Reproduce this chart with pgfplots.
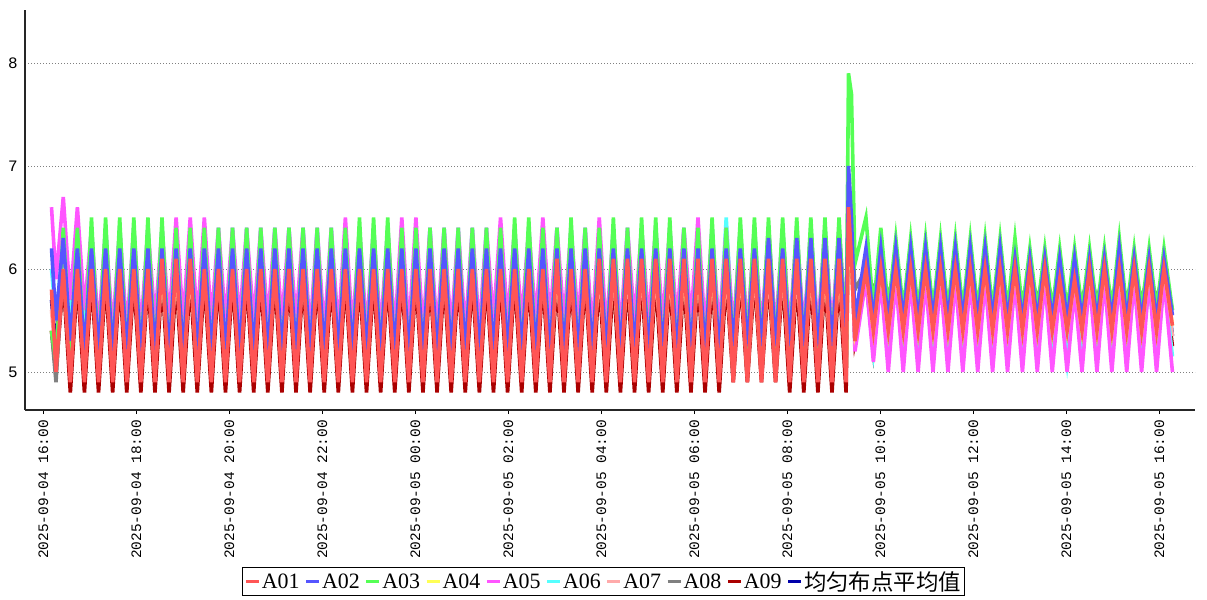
\documentclass[border=0pt]{standalone}
\usepackage{fontspec}
\setmainfont{Liberation Serif}
\setmonofont{Liberation Mono}
\newfontfamily\cjk{Noto Sans CJK SC}
\usepackage{pgfplots}
\usepackage{pgfplotstable}
\pgfplotsset{compat=1.18}

\definecolor{c01}{HTML}{FF5555}
\definecolor{c02}{HTML}{5555FF}
\definecolor{c03}{HTML}{55FF55}
\definecolor{c04}{HTML}{FFFF55}
\definecolor{c05}{HTML}{FF55FF}
\definecolor{c06}{HTML}{55FFFF}
\definecolor{c07}{HTML}{FFAAAA}
\definecolor{c08}{HTML}{808080}
\definecolor{c09}{HTML}{AA0000}
\definecolor{cavg}{HTML}{0000AA}

% t = minutes after 2025-09-04 16:00
\pgfplotstableread{
t a01 a02 a03 a04 a05 a06 a07 a08 a09 avg
10.6 5.8 6.2 5.4 5.4 6.6 6.0 5.6 5.4 5.4 5.7
16.4 5.0 5.5 5.1 5.2 5.9 5.5 5.1 4.9 5.0 5.23
25.8 6.0 6.3 6.4 6.1 6.7 6.3 6.0 6.1 5.9 6.2
34.9 4.9 5.3 5.2 5.0 5.7 5.5 5.0 5.0 4.8 5.15
44.0 6.0 6.2 6.4 6.1 6.6 6.3 6.0 6.1 5.9 6.2
53.1 4.9 5.2 5.1 5.0 5.6 5.4 5.0 5.0 4.8 5.1
62.2 6.0 6.2 6.5 6.1 6.4 6.4 6.0 6.1 5.9 6.2
71.3 4.9 5.2 5.1 5.0 5.4 5.3 5.0 5.0 4.8 5.1
80.4 6.0 6.2 6.5 6.1 6.4 6.4 6.0 6.1 5.9 6.2
89.5 4.9 5.2 5.1 5.0 5.4 5.3 5.0 5.0 4.8 5.1
98.6 6.0 6.2 6.5 6.1 6.4 6.4 6.0 6.1 5.9 6.2
107.7 4.9 5.2 5.1 5.0 5.4 5.3 5.0 5.0 4.8 5.1
116.8 6.0 6.2 6.5 6.1 6.4 6.4 6.0 6.1 5.9 6.2
125.9 4.9 5.2 5.1 5.0 5.4 5.3 5.0 5.0 4.8 5.1
135.0 6.0 6.2 6.5 6.1 6.4 6.4 6.0 6.1 5.9 6.2
144.1 4.9 5.2 5.1 5.0 5.5 5.3 5.0 5.0 4.8 5.1
153.2 6.1 6.2 6.5 6.1 6.4 6.4 6.0 6.1 5.9 6.2
162.3 4.9 5.2 5.1 5.0 5.5 5.3 5.0 5.0 4.8 5.1
171.4 6.1 6.2 6.4 6.1 6.5 6.4 6.0 6.1 5.9 6.2
180.5 4.9 5.2 5.1 5.0 5.5 5.3 5.0 5.0 4.8 5.1
189.6 6.1 6.2 6.4 6.1 6.5 6.4 6.0 6.1 5.9 6.2
198.7 4.9 5.2 5.1 5.0 5.5 5.3 5.0 5.0 4.8 5.1
207.8 6.0 6.2 6.4 6.1 6.5 6.4 6.0 6.1 5.9 6.2
216.9 4.9 5.2 5.1 5.0 5.5 5.3 5.0 5.0 4.8 5.1
226.0 6.0 6.2 6.4 6.1 6.4 6.4 6.0 6.1 5.9 6.2
235.1 4.9 5.2 5.1 5.0 5.5 5.3 5.0 5.0 4.8 5.1
244.2 6.0 6.2 6.4 6.1 6.4 6.4 6.0 6.1 5.9 6.2
253.3 4.9 5.2 5.1 5.0 5.5 5.3 5.0 5.0 4.8 5.1
262.4 6.0 6.2 6.4 6.1 6.4 6.4 6.0 6.1 5.9 6.2
271.5 4.9 5.2 5.1 5.0 5.5 5.3 5.0 5.0 4.8 5.1
280.6 6.0 6.2 6.4 6.1 6.4 6.4 6.0 6.1 5.9 6.2
289.7 4.9 5.2 5.1 5.0 5.5 5.3 5.0 5.0 4.8 5.1
298.8 6.0 6.2 6.4 6.1 6.4 6.4 6.0 6.1 5.9 6.2
307.9 4.9 5.2 5.1 5.0 5.5 5.3 5.0 5.0 4.8 5.1
317.0 6.0 6.2 6.4 6.1 6.4 6.4 6.0 6.1 5.9 6.2
326.1 4.9 5.2 5.1 5.0 5.5 5.3 5.0 5.0 4.8 5.1
335.2 6.0 6.2 6.4 6.1 6.4 6.4 6.0 6.1 5.9 6.2
344.3 4.9 5.2 5.1 5.0 5.4 5.3 5.0 5.0 4.8 5.1
353.4 6.0 6.2 6.4 6.1 6.4 6.4 6.0 6.1 5.9 6.2
362.5 4.9 5.2 5.1 5.0 5.4 5.3 5.0 5.0 4.8 5.1
371.6 6.0 6.2 6.4 6.1 6.4 6.4 6.0 6.1 5.9 6.2
380.7 4.9 5.2 5.1 5.0 5.4 5.3 5.0 5.0 4.8 5.1
389.8 6.0 6.2 6.4 6.1 6.5 6.4 6.0 6.1 5.9 6.2
398.9 4.9 5.2 5.1 5.0 5.4 5.3 5.0 5.0 4.8 5.1
408.0 6.0 6.2 6.5 6.1 6.4 6.4 6.0 6.1 5.9 6.2
417.1 4.9 5.2 5.1 5.0 5.4 5.3 5.0 5.0 4.8 5.1
426.2 6.0 6.2 6.5 6.1 6.4 6.4 6.0 6.1 5.9 6.2
435.3 4.9 5.2 5.1 5.0 5.4 5.3 5.0 5.0 4.8 5.1
444.4 6.0 6.2 6.5 6.1 6.4 6.4 6.0 6.1 5.9 6.2
453.5 4.9 5.2 5.1 5.0 5.4 5.3 5.0 5.0 4.8 5.1
462.6 6.0 6.2 6.4 6.1 6.5 6.4 6.0 6.1 5.9 6.2
471.7 4.9 5.2 5.1 5.0 5.4 5.3 5.0 5.0 4.8 5.1
480.8 6.0 6.2 6.4 6.1 6.5 6.4 6.0 6.1 5.9 6.2
489.9 4.9 5.2 5.1 5.0 5.4 5.3 5.0 5.0 4.8 5.1
499.0 6.0 6.2 6.4 6.1 6.4 6.4 6.0 6.1 5.9 6.2
508.1 4.9 5.2 5.1 5.0 5.4 5.3 5.0 5.0 4.8 5.1
517.2 6.0 6.2 6.4 6.1 6.4 6.4 6.0 6.1 5.9 6.2
526.3 4.9 5.2 5.1 5.0 5.4 5.3 5.0 5.0 4.8 5.1
535.4 6.0 6.2 6.4 6.1 6.4 6.4 6.0 6.1 5.9 6.2
544.5 4.9 5.2 5.1 5.0 5.4 5.3 5.0 5.0 4.8 5.1
553.6 6.0 6.2 6.4 6.1 6.4 6.4 6.0 6.1 5.9 6.2
562.7 4.9 5.2 5.1 5.0 5.4 5.3 5.0 5.0 4.8 5.1
571.8 6.0 6.2 6.4 6.1 6.4 6.4 6.0 6.1 5.9 6.2
580.9 4.9 5.2 5.1 5.0 5.5 5.3 5.0 5.0 4.8 5.1
590.0 6.0 6.2 6.4 6.1 6.5 6.4 6.0 6.1 5.9 6.2
599.1 4.9 5.2 5.1 5.0 5.5 5.3 5.0 5.0 4.8 5.1
608.2 6.0 6.2 6.5 6.1 6.4 6.4 6.0 6.1 5.9 6.2
617.3 4.9 5.2 5.1 5.0 5.5 5.3 5.0 5.0 4.8 5.1
626.4 6.0 6.2 6.5 6.1 6.4 6.4 6.0 6.1 5.9 6.2
635.5 4.9 5.2 5.1 5.0 5.5 5.3 5.0 5.0 4.8 5.1
644.6 6.0 6.2 6.4 6.1 6.5 6.4 6.0 6.1 5.9 6.2
653.7 4.9 5.2 5.1 5.0 5.5 5.3 5.0 5.0 4.8 5.1
662.8 6.1 6.2 6.4 6.1 6.4 6.4 6.0 6.1 5.9 6.2
671.9 4.9 5.2 5.1 5.0 5.5 5.3 5.0 5.0 4.8 5.1
681.0 6.0 6.2 6.5 6.1 6.4 6.4 6.0 6.1 5.9 6.2
690.1 4.9 5.2 5.1 5.0 5.5 5.3 5.0 5.0 4.8 5.1
699.2 6.0 6.2 6.4 6.1 6.4 6.4 6.0 6.1 5.9 6.2
708.3 4.9 5.2 5.1 5.0 5.4 5.3 5.0 5.0 4.8 5.1
717.4 6.1 6.2 6.4 6.1 6.5 6.4 6.0 6.1 5.9 6.2
726.5 4.9 5.2 5.1 5.0 5.4 5.3 5.0 5.0 4.8 5.1
735.6 6.1 6.2 6.5 6.1 6.4 6.4 6.0 6.1 5.9 6.2
744.7 4.9 5.2 5.1 5.0 5.4 5.3 5.0 5.0 4.8 5.1
753.8 6.1 6.2 6.4 6.1 6.4 6.4 6.0 6.1 5.9 6.2
762.9 4.9 5.2 5.1 5.0 5.5 5.3 5.0 5.0 4.8 5.1
772.0 6.1 6.2 6.5 6.1 6.4 6.4 6.0 6.1 5.9 6.2
781.1 4.9 5.2 5.1 5.0 5.5 5.3 5.0 5.0 4.8 5.1
790.2 6.1 6.2 6.5 6.1 6.4 6.4 6.0 6.1 5.9 6.2
799.3 4.9 5.2 5.1 5.0 5.5 5.3 5.0 5.0 4.8 5.1
808.4 6.1 6.2 6.5 6.1 6.4 6.4 6.0 6.1 5.9 6.2
817.5 4.9 5.2 5.1 5.0 5.5 5.3 5.0 5.0 4.8 5.1
826.6 6.1 6.2 6.4 6.1 6.4 6.4 6.0 6.1 5.9 6.2
835.7 4.9 5.2 5.1 5.0 5.5 5.3 5.0 5.0 4.8 5.1
844.8 6.1 6.2 6.4 6.1 6.5 6.4 6.0 6.1 5.9 6.2
853.9 4.9 5.2 5.1 5.0 5.4 5.3 5.0 5.0 4.8 5.1
863.0 6.1 6.2 6.5 6.1 6.4 6.4 6.0 6.1 5.9 6.2
872.1 4.9 5.2 5.1 5.0 5.4 5.3 5.0 5.0 4.8 5.1
881.2 6.1 6.2 6.4 6.1 6.4 6.5 6.0 6.1 5.9 6.2
890.3 4.9 5.25 5.2 5.0 5.4 5.3 5.0 5.0 4.9 5.1
899.4 6.1 6.2 6.5 6.1 6.4 6.4 6.0 6.1 5.9 6.2
908.5 4.9 5.25 5.2 5.0 5.4 5.3 5.0 5.0 4.9 5.1
917.6 6.1 6.2 6.5 6.1 6.4 6.4 6.0 6.1 5.9 6.2
926.7 4.9 5.25 5.2 5.0 5.4 5.3 5.0 5.0 4.9 5.1
935.8 6.1 6.3 6.5 6.1 6.4 6.4 6.0 6.1 5.9 6.2
944.9 4.9 5.25 5.2 5.0 5.4 5.3 5.0 5.0 4.9 5.1
954.0 6.1 6.2 6.5 6.1 6.4 6.4 6.0 6.1 5.9 6.2
963.1 4.9 5.25 5.2 5.0 5.4 5.3 5.0 5.0 4.8 5.1
972.2 6.1 6.3 6.5 6.1 6.4 6.4 6.0 6.1 5.9 6.2
981.3 4.9 5.25 5.2 5.0 5.4 5.3 5.0 5.0 4.8 5.1
990.4 6.1 6.3 6.5 6.1 6.4 6.4 6.0 6.1 5.9 6.2
999.5 4.9 5.25 5.2 5.0 5.4 5.3 5.0 5.0 4.8 5.1
1008.6 6.1 6.3 6.5 6.1 6.4 6.4 6.0 6.1 5.9 6.2
1017.7 4.9 5.25 5.2 5.0 5.4 5.3 5.0 5.0 4.8 5.1
1026.8 6.1 6.3 6.5 6.1 6.4 6.4 6.0 6.1 5.9 6.2
1035.9 4.9 5.25 5.2 5.0 5.4 5.3 5.0 5.0 4.8 5.1
1039.0 6.6 7.0 7.9 6.5 6.7 6.8 6.5 6.9 6.5 6.8
1042.8 6.1 6.5 7.7 6.1 6.3 6.3 6.1 6.5 6.1 6.4
1047.3 5.3 5.5 6.05 5.4 5.2 5.25 5.35 5.8 5.3 5.45
1061.5 6.0 6.2 6.5 6.0 5.9 5.9 5.9 6.0 5.9 6.05
1071.1 5.4 5.5 5.6 5.4 5.1 5.2 5.3 5.8 5.2 5.4
1080.7 6.0 6.2 6.4 6.0 5.9 5.9 5.9 6.0 5.9 6.05
1090.3 5.4 5.5 5.6 5.4 5.0 5.1 5.3 5.75 5.2 5.35
1100.0 6.0 6.2 6.3 6.0 5.9 5.9 5.9 6.0 5.9 6.0
1109.6 5.4 5.5 5.6 5.4 5.0 5.1 5.3 5.7 5.2 5.35
1119.2 6.0 6.2 6.3 6.0 5.9 5.9 5.9 6.0 5.9 6.0
1128.8 5.4 5.5 5.6 5.4 5.0 5.1 5.3 5.7 5.2 5.35
1138.4 6.0 6.2 6.3 6.0 5.9 5.9 5.9 6.0 5.9 6.0
1148.0 5.4 5.5 5.6 5.4 5.0 5.1 5.3 5.7 5.2 5.35
1157.7 6.0 6.2 6.3 6.0 5.9 5.9 5.9 6.0 5.9 6.0
1167.3 5.4 5.5 5.6 5.4 5.0 5.1 5.3 5.7 5.2 5.35
1176.9 6.0 6.2 6.3 6.0 5.9 5.9 5.9 6.0 5.9 6.0
1186.5 5.4 5.5 5.6 5.4 5.0 5.1 5.3 5.7 5.2 5.35
1196.1 6.0 6.2 6.3 6.0 5.9 5.9 5.9 6.0 5.9 6.0
1205.7 5.4 5.5 5.6 5.4 5.0 5.1 5.3 5.7 5.2 5.35
1215.3 6.0 6.2 6.3 6.0 5.9 5.9 5.9 6.0 5.9 6.0
1224.9 5.4 5.5 5.6 5.4 5.0 5.1 5.3 5.7 5.2 5.35
1234.6 6.0 6.2 6.3 6.0 5.9 5.9 5.9 6.0 5.9 6.0
1244.2 5.4 5.5 5.6 5.4 5.0 5.1 5.3 5.7 5.2 5.35
1253.8 6.0 6.1 6.3 6.0 5.9 5.9 5.9 6.0 5.9 6.0
1263.4 5.4 5.5 5.6 5.4 5.0 5.1 5.3 5.7 5.2 5.35
1273.0 6.0 6.1 6.2 6.0 5.9 5.9 5.9 6.0 5.9 6.0
1282.6 5.4 5.5 5.6 5.4 5.0 5.1 5.3 5.7 5.2 5.35
1292.3 6.0 6.1 6.2 6.0 5.9 5.9 5.9 6.0 5.9 6.0
1301.9 5.4 5.5 5.6 5.4 5.0 5.1 5.3 5.7 5.2 5.35
1311.5 5.9 6.1 6.2 5.9 5.8 5.8 5.8 5.9 5.8 5.95
1321.1 5.4 5.5 5.6 5.4 5.0 5.1 5.3 5.7 5.2 5.35
1330.7 5.9 6.1 6.2 5.9 5.8 5.8 5.8 5.9 5.8 5.95
1340.3 5.4 5.5 5.6 5.4 5.0 5.1 5.3 5.7 5.2 5.35
1350.0 6.0 6.1 6.2 6.0 5.9 5.9 5.9 6.0 5.9 6.0
1359.6 5.4 5.5 5.6 5.4 5.0 5.1 5.3 5.7 5.2 5.35
1369.2 6.0 6.1 6.2 6.0 5.9 5.9 5.9 6.0 5.9 6.0
1378.8 5.4 5.5 5.6 5.4 5.0 5.1 5.3 5.7 5.2 5.35
1388.4 6.0 6.2 6.3 6.0 5.9 5.9 5.9 6.0 5.9 6.0
1398.0 5.4 5.5 5.6 5.4 5.0 5.1 5.3 5.7 5.2 5.35
1407.6 6.0 6.1 6.2 6.0 5.9 5.9 5.9 6.0 5.9 6.0
1417.2 5.4 5.5 5.6 5.4 5.0 5.1 5.3 5.7 5.2 5.35
1426.9 6.0 6.1 6.2 6.0 5.9 5.9 5.9 6.0 5.9 6.0
1436.5 5.4 5.5 5.6 5.4 5.0 5.1 5.3 5.7 5.2 5.35
1446.1 6.0 6.1 6.2 6.0 5.9 5.9 5.9 6.0 5.9 6.0
1457.0 5.45 5.55 5.6 5.45 5.0 5.15 5.35 5.6 5.25 5.35
}\series

\begin{document}
\begin{tikzpicture}
\useasboundingbox (-25bp,-190bp) rectangle (1182bp,410bp);
\begin{axis}[
    at={(0,0)}, anchor=south west,
    scale only axis,
    width=1170bp, height=400bp,
    xmin=-23.6, xmax=1486.1,
    ymin=4.631, ymax=8.515,
    axis x line=bottom, axis y line=left,
    axis line style={-, line width=1.5bp, black!85},
    xtick={0,120,...,1440},
    xticklabels={2025-09-04 16:00, 2025-09-04 18:00, 2025-09-04 20:00, 2025-09-04 22:00,
        2025-09-05 00:00, 2025-09-05 02:00, 2025-09-05 04:00, 2025-09-05 06:00,
        2025-09-05 08:00, 2025-09-05 10:00, 2025-09-05 12:00, 2025-09-05 14:00,
        2025-09-05 16:00},
    ytick={5,6,7,8},
    tick align=outside,
    major tick length=4bp,
    xtick style={black, line width=1bp},
    ytick style={draw=none},
    ymajorgrids,
    grid style={gray, line width=0.8bp, dash pattern=on 1bp off 2bp},
    tick label style={font=\ttfamily\fontsize{14.5}{16}\selectfont},
    yticklabel style={font=\ttfamily\fontsize{16}{18}\selectfont, anchor=east, inner sep=0bp},
    xticklabel style={rotate=90, anchor=east, inner sep=0bp},
    xticklabel shift=6bp,
    yticklabel shift=3bp,
    /pgf/number format/assume math mode=true,
    every axis plot/.append style={line width=3.6bp, no markers},
    legend columns=-1,
    legend image code/.code={\draw[#1] (0bp,0bp) -- (13bp,0bp);},
    legend style={at={(0.4944,-0.4288)}, anchor=center, draw=black,
        line width=0.8bp, fill=white, inner sep=2bp,
        font=\fontsize{22}{24}\selectfont,
        nodes={inner sep=1.5bp},
        /tikz/every even column/.append style={column sep=3.5bp}},
]
% drawn back to front so that A01 ends on top
\addplot[cavg, forget plot] table[x=t, y=avg] \series;
\addplot[c09, forget plot] table[x=t, y=a09] \series;
\addplot[c08, forget plot] table[x=t, y=a08] \series;
\addplot[c07, forget plot] table[x=t, y=a07] \series;
\addplot[c06, forget plot] table[x=t, y=a06] \series;
\addplot[c05, forget plot] table[x=t, y=a05] \series;
\addplot[c04, forget plot] table[x=t, y=a04] \series;
\addplot[c03, forget plot] table[x=t, y=a03] \series;
\addplot[c02, forget plot] table[x=t, y=a02] \series;
\addplot[c01, forget plot] table[x=t, y=a01] \series;

\addlegendimage{c01, line width=3bp}\addlegendentry{A01}
\addlegendimage{c02, line width=3bp}\addlegendentry{A02}
\addlegendimage{c03, line width=3bp}\addlegendentry{A03}
\addlegendimage{c04, line width=3bp}\addlegendentry{A04}
\addlegendimage{c05, line width=3bp}\addlegendentry{A05}
\addlegendimage{c06, line width=3bp}\addlegendentry{A06}
\addlegendimage{c07, line width=3bp}\addlegendentry{A07}
\addlegendimage{c08, line width=3bp}\addlegendentry{A08}
\addlegendimage{c09, line width=3bp}\addlegendentry{A09}
\addlegendimage{cavg, line width=3bp}\addlegendentry{{\cjk\fontsize{22.5}{24}\selectfont 均匀布点平均值}}
\end{axis}
\end{tikzpicture}
\end{document}
